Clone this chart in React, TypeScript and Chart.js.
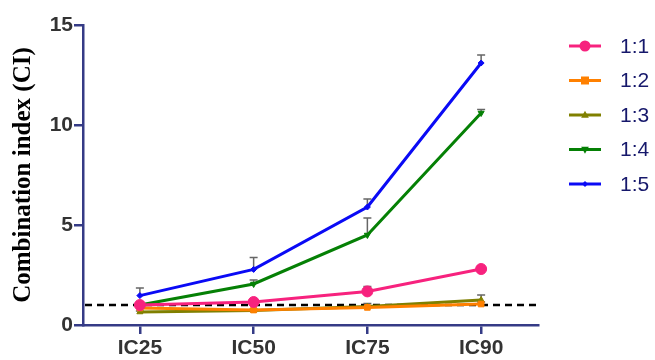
import React, { useEffect, useRef } from "react";
import { Chart, registerables } from "chart.js";
Chart.register(...registerables);

const categories = ["IC25", "IC50", "IC75", "IC90"];
const seriesNames = ["1:1", "1:2", "1:3", "1:4", "1:5"];
const s11 = [1.0, 1.15, 1.68, 2.8];
const s12 = [0.85, 0.75, 0.88, 1.05];
const s13 = [0.65, 0.72, 0.92, 1.25];
const s14 = [1.0, 2.05, 4.5, 10.6];
const s15 = [1.47, 2.78, 5.9, 13.1];
const e11 = [0.05, 0.08, 0.25, 0.08];
const e12 = [0.05, 0.05, 0.05, 0.1];
const e13 = [0.05, 0.05, 0.15, 0.25];
const e14 = [0.1, 0.2, 0.85, 0.18];
const e15 = [0.38, 0.6, 0.4, 0.4];
const yTicks = [0, 5, 10, 15];
const refLine = 1;

const colors = ["#f7227e", "#ff8000", "#808000", "#058005", "#0a0af5"];
const styles: any[] = ["circle", "rect", "triangle", "triangle", "rectRot"];
const rotations = [0, 0, 0, 180, 0];
const radii = [5.5, 4, 3.5, 3.5, 3];
const values = [s11, s12, s13, s14, s15];
const errors = [e11, e12, e13, e14, e15];
const AXIS = "#353b86";

function drawMarker(ctx: any, style: string, r: number, rot: number, x: number, y: number) {
  ctx.save();
  ctx.translate(x, y);
  ctx.rotate((rot * Math.PI) / 180);
  ctx.beginPath();
  if (style === "circle") {
    ctx.arc(0, 0, r, 0, Math.PI * 2);
  } else if (style === "rect") {
    ctx.rect(-r, -r, 2 * r, 2 * r);
  } else if (style === "triangle") {
    ctx.moveTo(0, -r * 1.2);
    ctx.lineTo(r * 1.1, r * 0.8);
    ctx.lineTo(-r * 1.1, r * 0.8);
    ctx.closePath();
  } else {
    ctx.moveTo(0, -r);
    ctx.lineTo(r, 0);
    ctx.lineTo(0, r);
    ctx.lineTo(-r, 0);
    ctx.closePath();
  }
  ctx.fill();
  ctx.restore();
}

const extrasPlugin = {
  id: "extras",
  beforeDatasetsDraw(chart: any) {
    const ctx = chart.ctx;
    const x = chart.scales.x;
    const y = chart.scales.y;
    ctx.save();
    ctx.strokeStyle = "#000";
    ctx.lineWidth = 2.5;
    ctx.setLineDash([7, 5]);
    ctx.beginPath();
    const yy = y.getPixelForValue(refLine);
    ctx.moveTo(chart.chartArea.left + 2, yy);
    ctx.lineTo(chart.chartArea.right, yy);
    ctx.stroke();
    ctx.setLineDash([]);
    ctx.strokeStyle = "#666";
    ctx.lineWidth = 1.5;
    chart.data.datasets.forEach((ds: any, i: number) => {
      ds.data.forEach((v: number, j: number) => {
        const px = x.getPixelForValue(j);
        const p0 = y.getPixelForValue(v);
        const p1 = y.getPixelForValue(v + errors[i][j]);
        ctx.beginPath();
        ctx.moveTo(px, p0);
        ctx.lineTo(px, p1);
        ctx.moveTo(px - 4, p1);
        ctx.lineTo(px + 4, p1);
        ctx.stroke();
      });
    });
    ctx.restore();
  },
  afterDraw(chart: any) {
    const ctx = chart.ctx;
    ctx.save();
    chart.data.datasets.forEach((ds: any, i: number) => {
      const cy = 46 + i * 34.5;
      ctx.strokeStyle = ds.borderColor;
      ctx.lineWidth = 3;
      ctx.beginPath();
      ctx.moveTo(569, cy);
      ctx.lineTo(601, cy);
      ctx.stroke();
      ctx.fillStyle = ds.borderColor;
      drawMarker(ctx, styles[i], radii[i], rotations[i], 585, cy);
      ctx.fillStyle = "#16186b";
      ctx.font = "21px 'Liberation Sans', Arial, sans-serif";
      ctx.textBaseline = "middle";
      ctx.textAlign = "left";
      ctx.fillText(seriesNames[i], 620, cy + 1);
    });
    ctx.restore();
  },
};

export default function App() {
  const ref = useRef<HTMLCanvasElement>(null);
  useEffect(() => {
    if (!ref.current) return;
    const chart = new Chart(ref.current, {
      type: "line",
      data: {
        labels: categories,
        datasets: seriesNames.map((n, i) => ({
          label: n,
          data: values[i],
          borderColor: colors[i],
          backgroundColor: colors[i],
          borderWidth: 3,
          pointStyle: styles[i],
          pointRotation: rotations[i],
          pointRadius: radii[i],
          pointBorderWidth: 1,
          tension: 0,
        })),
      },
      options: {
        responsive: false,
        animation: false,
        layout: { padding: { top: 25, right: 117, left: 0, bottom: 0 } },
        plugins: { legend: { display: false }, tooltip: { enabled: false } },
        scales: {
          x: {
            type: "category",
            offset: true,
            afterFit: (s: any) => { s.height = 35; },
            border: { color: AXIS, width: 2.5 },
            grid: { display: true, offset: false, drawOnChartArea: false, drawTicks: true, tickLength: 9, color: AXIS, lineWidth: 2.5 },
            ticks: {
              color: "#333",
              font: { family: "'Liberation Sans', Arial, sans-serif", size: 21, weight: "bold" },
              padding: 2,
            },
          },
          y: {
            min: 0,
            max: 15,
            afterFit: (s: any) => { s.width = 83; },
            afterBuildTicks: (s: any) => { s.ticks = yTicks.map((v) => ({ value: v })); },
            border: { color: AXIS, width: 2.5 },
            grid: { display: true, drawOnChartArea: false, drawTicks: true, tickLength: 9, color: AXIS, lineWidth: 2.5 },
            ticks: {
              color: "#333",
              font: { family: "'Liberation Sans', Arial, sans-serif", size: 21, weight: "bold" },
              padding: 1,
            },
            title: {
              display: true,
              text: "Combination index (CI)",
              color: "#000",
              font: { family: "'Liberation Serif', 'Times New Roman', serif", size: 25, weight: "bold" },
              padding: { top: 9, bottom: 0 },
            },
          },
        },
      },
      plugins: [extrasPlugin],
    } as any);
    return () => chart.destroy();
  }, []);
  return (
    <div style={{ position: "fixed", left: 0, top: 0, width: 655, height: 360, background: "#fff" }}>
      <canvas ref={ref} width={655} height={360} style={{ width: 655, height: 360 }} />
    </div>
  );
}
